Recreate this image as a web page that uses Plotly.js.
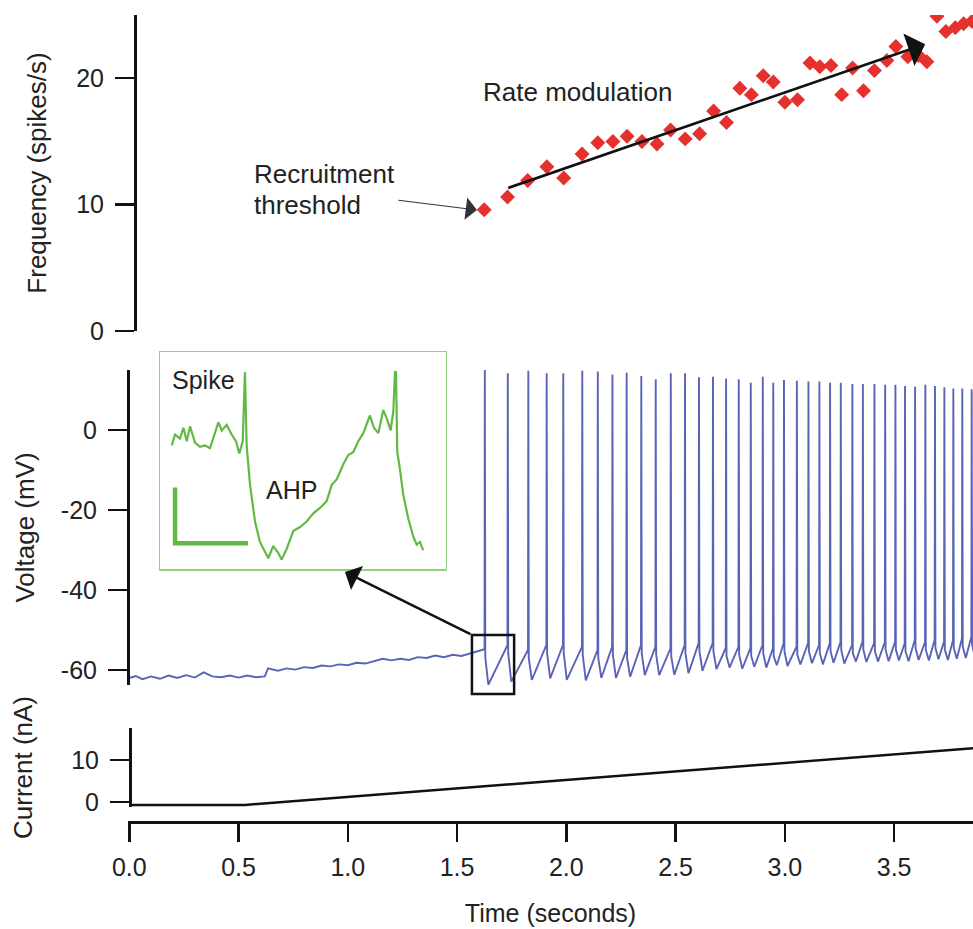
<!DOCTYPE html>
<html>
<head>
<meta charset="utf-8">
<script src="https://cdn.plot.ly/plotly-3.0.1.min.js"></script>
<style>html,body{margin:0;padding:0;background:#fff;}#chart{width:973px;height:929px;}</style>
</head>
<body>
<div id="chart"></div>
<script>
// ---------- DATA ----------
// Instantaneous firing frequency (spikes/s) at each spike time (s)
const freqTime = [1.624,1.731,1.823,1.911,1.988,2.072,2.144,2.213,2.278,2.346,2.415,2.477,2.544,2.610,2.674,
  2.733,2.794,2.847,2.901,2.947,3.000,3.058,3.115,3.160,3.211,3.260,3.310,3.360,3.410,3.467,
  3.508,3.563,3.612,3.650,3.696,3.737,3.780,3.818,3.856];
const freqValue = [9.6,10.6,11.9,13.0,12.1,14.0,14.9,15.0,15.4,15.0,14.8,15.9,15.2,15.6,17.4,
  16.5,19.2,18.7,20.2,19.7,18.1,18.3,21.2,20.9,21.0,18.7,20.8,19.0,20.6,21.4,
  22.5,21.7,21.8,21.3,24.9,23.7,24.0,24.3,24.5];

// Membrane voltage before firing starts: time (s), voltage (mV)
const preT = [0.00,0.03,0.06,0.10,0.14,0.18,0.22,0.26,0.30,0.34,0.38,0.42,0.46,0.50,0.54,0.58,0.62,
  0.635,0.68,0.72,0.76,0.80,0.84,0.88,0.92,0.96,1.00,1.04,1.08,1.12,1.16,1.20,1.24,1.28,1.32,1.36,
  1.40,1.44,1.48,1.52,1.56,1.60];
const preV = [-62.0,-61.5,-62.3,-61.6,-62.2,-61.4,-62.0,-61.3,-61.9,-60.6,-61.6,-61.8,-61.4,-61.9,-61.4,-61.8,-61.6,
  -59.6,-60.2,-59.6,-59.9,-59.3,-59.5,-58.9,-59.1,-58.6,-58.8,-58.2,-58.4,-57.8,-57.2,-57.6,-57.2,-57.5,-56.8,-57.0,
  -56.4,-56.8,-56.2,-56.5,-55.8,-55.2];

// Spikes: time (s), peak (mV), level just before spike (mV), AHP trough after spike (mV)
const spikeT = [1.627,1.732,1.826,1.910,1.986,2.073,2.144,2.211,2.276,2.343,2.409,2.478,2.543,2.607,2.671,
  2.731,2.789,2.844,2.899,2.947,2.996,3.055,3.108,3.158,3.207,3.256,3.309,3.357,3.410,3.459,
  3.506,3.550,3.596,3.643,3.687,3.730,3.771,3.812,3.855];
const spikePeak = [15.0,14.2,14.8,14.2,14.2,14.8,14.6,13.9,14.3,13.5,12.7,14.2,14.2,13.2,13.3,
  12.9,12.7,11.8,13.3,11.8,12.5,12.3,12.1,12.1,11.8,11.8,11.5,11.5,11.5,11.3,
  11.3,11.0,10.8,11.3,11.0,10.7,10.4,10.4,10.2];
const preSpikeV = [-54.8,-53.8,-55.0,-53.8,-53.8,-54.2,-55.0,-54.2,-55.0,-53.8,-54.2,-54.6,-53.8,-53.3,-53.3,
  -54.5,-54.2,-54.5,-53.8,-54.6,-53.3,-54.2,-53.3,-53.8,-53.3,-53.0,-53.8,-52.9,-53.3,-53.0,
  -52.9,-53.3,-52.5,-53.0,-52.5,-52.9,-52.5,-52.1,-51.7];
const troughV = [-63.7,-62.9,-62.5,-62.1,-62.5,-62.6,-62.0,-62.0,-61.7,-61.3,-61.3,-61.2,-60.8,-60.2,-59.8,
  -59.4,-59.7,-59.2,-59.4,-58.8,-59.0,-58.6,-58.3,-58.6,-58.2,-58.4,-57.9,-58.0,-57.9,-57.8,
  -57.6,-57.8,-57.5,-57.6,-57.3,-57.5,-57.2,-57.0,-57.0];
const ahpLag = 0.016; // s from spike to AHP trough

// Injected current ramp: time (s), current (nA)
const curT = [0.0, 0.53, 3.861];
const curI = [-0.7, -0.7, 12.8];

// Inset (magnified first interspike interval): time (ms from inset start), voltage (mV)
const insetT = [8.3,10.6,14.1,16.5,18.9,21.2,24.7,28.2,31.8,35.3,38.8,41.2,43.6,47.1,50.6,53.7,56.0,58.4,
  60.0,61.2,63.6,67.1,70.6,74.2,76.5,80.0,83.5,85.9,89.5,94.1,98.9,103.6,108.3,113.0,117.7,121.3,124.8,
  129.4,133.0,136.5,140.0,143.6,148.3,151.1,154.2,157.7,160.5,162.9,164.8,166.0,166.7,167.6,169.0,171.8,
  175.4,178.9,181.3,183.6,185.9];
const insetV = [-55.4,-54.6,-54.9,-54.1,-55.1,-54.0,-55.2,-55.5,-55.4,-55.6,-54.5,-53.7,-54.3,-53.9,-54.6,-55.1,-56.0,-55.1,
  -50.0,-55.4,-58.3,-61.0,-62.5,-63.2,-63.7,-62.8,-63.3,-63.8,-63.0,-61.7,-61.4,-61.0,-60.4,-60.0,-59.5,-58.3,-57.9,
  -56.8,-56.1,-55.9,-55.1,-54.5,-53.2,-54.1,-54.5,-52.8,-53.5,-54.3,-52.9,-50.0,-50.0,-55.9,-56.8,-59.0,
  -60.8,-62.1,-62.7,-62.5,-63.1];
// Inset scale bar (ms, mV)
const scaleT = [10.6, 10.6, 62.1];
const scaleV = [-58.5, -62.6, -62.6];

// Annotation anchors
const rateArrow = {t0:1.727, f0:11.28, t1:3.642, f1:22.69};
const recruitArrow = {t0:1.225, f0:10.36, t1:1.591, f1:9.57};
const zoomBoxT = [1.568, 1.761];
const zoomBoxV = [-66.0, -51.25];
const insetArrowTip = {t:0.987, v:-35.5};

const xTicks = [0,0.5,1.0,1.5,2.0,2.5,3.0,3.5];
const xTickText = ['0.0','0.5','1.0','1.5','2.0','2.5','3.0','3.5'];
const freqTicks = [0,10,20];
const voltTicks = [0,-20,-40,-60];
const voltTickText = ['0','-20','-40','-60'];
const curTicks = [0,10];

// ---------- build voltage trace ----------
const vt = preT.slice(), vv = preV.slice();
for (let i = 0; i < spikeT.length; i++) {
  const ts = spikeT[i];
  vt.push(ts - 0.0015); vv.push(preSpikeV[i]);
  vt.push(ts); vv.push(spikePeak[i]);
  vt.push(ts + 0.002); vv.push(preSpikeV[i] - 2);
  vt.push(ts + ahpLag); vv.push(troughV[i]);
}

// ---------- layout ----------
const FONT = 'Liberation Sans, Arial, Helvetica, sans-serif';
const INK = '#111';
const BLUE = '#5a64b6';
const GREEN = '#62b943';
const GREEN_BORDER = '#95d183';

const voltDomain = [0.1698, 0.5601];
const voltRange = [-63.75, 15];
function voltToPaper(v){return voltDomain[0] + (v - voltRange[0])/(voltRange[1]-voltRange[0])*(voltDomain[1]-voltDomain[0]);}

function yAx(extra){
  return Object.assign({
    anchor:'free', showline:true, linewidth:2.5, linecolor:INK,
    ticks:'outside', ticklen:19, tickwidth:2.5, tickcolor:INK,
    showgrid:false, zeroline:false, tickfont:{size:25, color:'#222'},
    ticklabelstandoff:6, fixedrange:true
  }, extra);
}

const traces = [
  {x:freqTime, y:freqValue, xaxis:'x', yaxis:'y', type:'scatter', mode:'markers',
   marker:{symbol:'diamond', size:11.5, color:'#e5312e', line:{width:0}}, hoverinfo:'skip'},
  {x:vt, y:vv, xaxis:'x', yaxis:'y2', type:'scatter', mode:'lines',
   line:{color:BLUE, width:1.9}, hoverinfo:'skip'},
  {x:curT, y:curI, xaxis:'x', yaxis:'y3', type:'scatter', mode:'lines',
   line:{color:INK, width:2.5}, hoverinfo:'skip'},
  {x:insetT, y:insetV, xaxis:'x2', yaxis:'y4', type:'scatter', mode:'lines',
   line:{color:GREEN, width:2.2}, hoverinfo:'skip'},
  {x:scaleT, y:scaleV, xaxis:'x2', yaxis:'y4', type:'scatter', mode:'lines',
   line:{color:GREEN, width:4.5}, hoverinfo:'skip'}
];

const layout = {
  width:973, height:929,
  margin:{l:128, r:0, t:15, b:107},
  paper_bgcolor:'#fff', plot_bgcolor:'rgba(0,0,0,0)',
  showlegend:false,
  font:{family:FONT, size:25, color:'#222'},
  xaxis:{domain:[0,1], range:[-0.006, 3.861], anchor:'free', position:0,
    showline:true, linewidth:2.5, linecolor:INK, ticks:'outside', ticklen:18, tickwidth:2.5, tickcolor:INK,
    tickvals:xTicks, ticktext:xTickText, showgrid:false, zeroline:false, ticklabelstandoff:4,
    tickfont:{size:25, color:'#222'},
    title:{text:'Time (seconds)', font:{size:25, color:'#222'}, standoff:24}, fixedrange:true},
  yaxis: yAx({domain:[0.6084,1], range:[0,25], position:0.0083, tickvals:freqTicks,
    title:{text:'Frequency (spikes/s)', font:{size:26, color:'#222'}, standoff:21}}),
  yaxis2: yAx({domain:voltDomain, range:voltRange, position:0, tickvals:voltTicks, ticktext:voltTickText,
    title:{text:'Voltage (mV)', font:{size:26, color:'#222'}, standoff:18}}),
  yaxis3: yAx({domain:[0.0186,0.1165], range:[-1.19,17.62], position:0.0024, tickvals:curTicks,
    title:{text:'Current (nA)', font:{size:26, color:'#222'}, standoff:30}}),
  xaxis2:{domain:[0.0379,0.3763], range:[0,202], anchor:'y4', showline:true, mirror:true,
    linecolor:GREEN_BORDER, linewidth:1.5, showticklabels:false, ticks:'', showgrid:false, zeroline:false, fixedrange:true},
  yaxis4:{domain:[0.3135,0.5824], range:[-64.49,-48.53], anchor:'x2', showline:true, mirror:true,
    linecolor:GREEN_BORDER, linewidth:1.5, showticklabels:false, ticks:'', showgrid:false, zeroline:false, fixedrange:true},
  shapes:[
    {type:'rect', xref:'x', yref:'paper', x0:zoomBoxT[0], x1:zoomBoxT[1],
     y0:voltToPaper(zoomBoxV[0]), y1:voltToPaper(zoomBoxV[1]), line:{color:INK, width:2.5}, fillcolor:'rgba(0,0,0,0)'}
  ],
  annotations:[
    {xref:'x', yref:'y', x:rateArrow.t1, y:rateArrow.f1, axref:'x', ayref:'y', ax:rateArrow.t0, ay:rateArrow.f0,
     showarrow:true, arrowhead:1, arrowsize:2.2, arrowwidth:2.6, arrowcolor:INK, text:'', standoff:0},
    {xref:'x', yref:'y', x:recruitArrow.t1, y:recruitArrow.f1, axref:'x', ayref:'y', ax:recruitArrow.t0, ay:recruitArrow.f0,
     showarrow:true, arrowhead:1, arrowsize:3.4, arrowwidth:1.1, arrowcolor:'#333', text:'', standoff:0},
    {xref:'x', yref:'y2', x:insetArrowTip.t, y:insetArrowTip.v, axref:'x', ayref:'y2', ax:zoomBoxT[0], ay:zoomBoxV[1],
     showarrow:true, arrowhead:1, arrowsize:1.8, arrowwidth:2.5, arrowcolor:INK, text:'', standoff:0},
    {xref:'x', yref:'y', x:2.049, y:18.9, text:'Rate modulation', showarrow:false,
     font:{size:26, color:'#222'}, xanchor:'center', yanchor:'middle'},
    {xref:'x', yref:'y', x:0.5616, y:12.4, text:'Recruitment', showarrow:false,
     font:{size:26, color:'#222'}, xanchor:'left', yanchor:'middle'},
    {xref:'x', yref:'y', x:0.5616, y:10.0, text:'threshold', showarrow:false,
     font:{size:26, color:'#222'}, xanchor:'left', yanchor:'middle'},
    {xref:'x2', yref:'y4', x:7.1, y:-50.6, text:'Spike', showarrow:false,
     font:{size:25, color:'#222'}, xanchor:'left', yanchor:'middle'},
    {xref:'x2', yref:'y4', x:93.2, y:-58.7, text:'AHP', showarrow:false,
     font:{size:25, color:'#222'}, xanchor:'center', yanchor:'middle'}
  ]
};

Plotly.newPlot('chart', traces, layout, {staticPlot:true, displayModeBar:false});
</script>
</body>
</html>
